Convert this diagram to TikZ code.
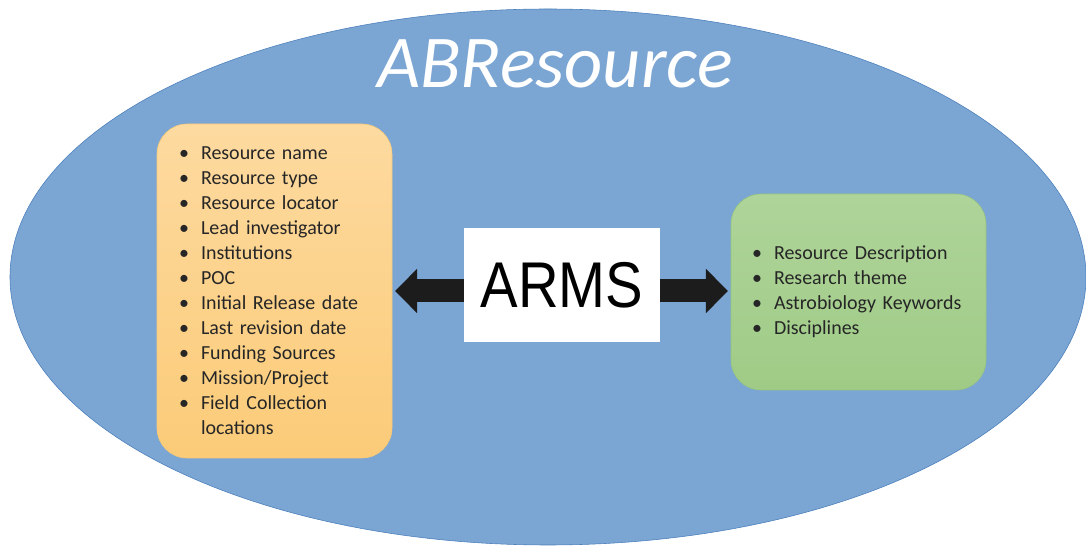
\documentclass[tikz,border=0pt]{standalone}
\usepackage{fontspec}
\setmainfont{Carlito}
\newfontfamily\armsfont[FakeStretch=0.87]{Liberation Sans}
\usetikzlibrary{arrows.meta, positioning, shapes.geometric}
\definecolor{ellblue}{HTML}{7BA6D3}
\definecolor{ellborder}{HTML}{4A7EBB}
\definecolor{orangetop}{HTML}{FDDAA0}
\definecolor{orangebot}{HTML}{FBCB78}
\definecolor{orangeline}{HTML}{F6C879}
\definecolor{greentop}{HTML}{AFD49A}
\definecolor{greenbot}{HTML}{9FCB86}
\definecolor{greenline}{HTML}{97C47E}
\definecolor{textgray}{HTML}{262626}
\definecolor{arrowblack}{HTML}{1C1C1C}
\newcommand{\bitem}[1]{\makebox[0.55cm][l]{\textbullet}#1}
\tikzset{
	container/.style={
			ellipse,
			draw=ellborder,
			fill=ellblue,
			thin,
			inner sep=0pt,
			minimum width=26.9cm,
			minimum height=13.4cm
		},
	listbox/.style={
			rectangle,
			rounded corners=0.75cm,
			thin,
			align=left,
			inner ysep=0pt,
			font=\fontsize{14.2}{17.8}\selectfont,
			text=textgray
		},
	orangebox/.style={
			listbox,
			draw=orangeline,
			top color=orangetop,
			bottom color=orangebot,
			inner xsep=0.55cm,
			text width=4.775cm,
			minimum height=8.35cm
		},
	greenbox/.style={
			listbox,
			draw=greenline,
			top color=greentop,
			bottom color=greenbot,
			inner xsep=0.525cm,
			text width=5.325cm,
			minimum height=4.9cm
		},
	armsbox/.style={
			rectangle,
			fill=white,
			minimum width=4.9cm,
			minimum height=2.85cm,
			font=\armsfont\fontsize{46}{50}\selectfont,
			text=black
		},
	bigarrow/.style={
			draw=arrowblack,
			line width=0.575cm,
			shorten >=0.07cm,
			-{Triangle[length=0.55cm,width=1.075cm]}
		}
}
\begin{document}
\begin{tikzpicture}
\useasboundingbox (0,0) rectangle (27.15,13.65);
\node[container] (abresource) at (13.7,6.725) {};
\node[anchor=base, text=white, font=\fontsize{53}{60}\selectfont\itshape] (title) at (13.875,11.45) {ABResource};

\node[orangebox] (attrs) at (6.8625,6.375) {
\bitem{Resource name}\\
\bitem{Resource type}\\
\bitem{Resource locator}\\
\bitem{Lead investigator}\\
\bitem{Institutions}\\
\bitem{POC}\\
\bitem{Initial Release date}\\
\bitem{Last revision date}\\
\bitem{Funding Sources}\\
\bitem{Mission/Project}\\
\bitem{Field Collection}\\
\hspace*{0.55cm}locations};

\node[greenbox] (descr) at (21.4625,6.35) {
\bitem{Resource Description}\\
\bitem{Research theme}\\
\bitem{Astrobiology Keywords}\\
\bitem{Disciplines}};

\node[armsbox] (arms) at (14.05,6.525) {ARMS};

\draw[bigarrow] (arms.west |- attrs.east) -- (attrs.east);
\draw[bigarrow] (arms.east |- attrs.east) -- (descr.west |- attrs.east);
\end{tikzpicture}
\end{document}
